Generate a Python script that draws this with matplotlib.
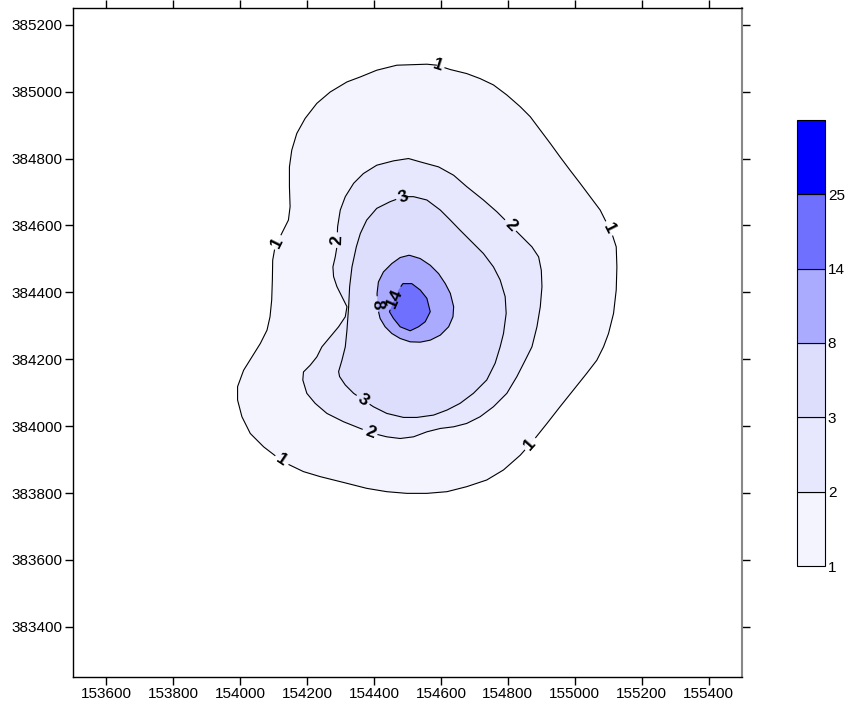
import numpy as np
import matplotlib.pyplot as plt
from matplotlib.contour import ContourSet

plt.rcParams['font.family'] = ['Liberation Sans', 'DejaVu Sans']

# contour levels and band colours (values below 1 stay white)
levels = [1, 2, 3, 8, 14, 25]
band_colors = ['#F4F4FF', '#E7E7FD', '#DDDDFC', '#AAAAFF', '#7070FF', '#0000FF']

# isolines (easting, northing)
c1_x = [154588, 154558, 154468, 154408, 154359, 154319, 154269, 154229, 154194, 154169,
        154154, 154147, 154147, 154149, 154144, 154124, 154104, 154097, 154096, 154094,
        154089, 154080, 154060, 154035, 154010, 153992, 153992, 154005, 154030, 154070,
        154109, 154139, 154189, 154239, 154319, 154378, 154438, 154498, 154558, 154618,
        154677, 154737, 154787, 154837, 154877, 154917, 154956, 154996, 155036, 155066,
        155086, 155101, 155116, 155124, 155126, 155124, 155111, 155096, 155076, 155046,
        155016, 154986, 154956, 154927, 154897, 154867, 154837, 154797, 154757, 154717,
        154677, 154628]
c1_y = [385079, 385082, 385079, 385064, 385044, 385029, 384999, 384965, 384920, 384875,
        384825, 384775, 384716, 384656, 384616, 384576, 384536, 384496, 384437, 384377,
        384327, 384287, 384247, 384207, 384167, 384118, 384078, 384028, 383978, 383938,
        383908, 383888, 383864, 383849, 383829, 383814, 383804, 383799, 383799, 383804,
        383819, 383839, 383869, 383913, 383958, 384008, 384058, 384108, 384158, 384197,
        384237, 384277, 384337, 384407, 384476, 384536, 384576, 384606, 384646, 384686,
        384726, 384765, 384805, 384845, 384885, 384925, 384955, 384990, 385020, 385039,
        385054, 385066]

c2_x = [154503, 154538, 154593, 154638, 154677, 154727, 154767, 154807, 154842, 154872,
        154892, 154900, 154902, 154897, 154887, 154872, 154852, 154827, 154797, 154757,
        154717, 154677, 154638, 154598, 154558, 154518, 154478, 154438, 154398, 154359,
        154309, 154259, 154224, 154199, 154187, 154189, 154209, 154229, 154244, 154269,
        154294, 154314, 154319, 154304, 154289, 154279, 154277, 154284, 154289, 154291,
        154299, 154314, 154339, 154368, 154408, 154458]
c2_y = [384800, 384790, 384775, 384750, 384716, 384676, 384641, 384601, 384566, 384536,
        384506, 384466, 384417, 384357, 384297, 384237, 384197, 384148, 384098, 384058,
        384028, 384008, 383998, 383993, 383983, 383968, 383963, 383968, 383978, 383993,
        384013, 384038, 384068, 384098, 384138, 384162, 384182, 384207, 384237, 384267,
        384297, 384327, 384357, 384387, 384417, 384447, 384476, 384506, 384536, 384596,
        384646, 384686, 384726, 384755, 384780, 384793]

c3_x = [154488, 154518, 154558, 154598, 154628, 154657, 154697, 154727, 154757, 154777,
        154792, 154795, 154787, 154777, 154762, 154737, 154697, 154657, 154618, 154578,
        154528, 154488, 154438, 154398, 154368, 154339, 154314, 154297, 154294, 154304,
        154314, 154319, 154324, 154327, 154334, 154347, 154359, 154378, 154408, 154448]
c3_y = [384686, 384686, 384676, 384646, 384616, 384586, 384546, 384516, 384476, 384437,
        384387, 384337, 384277, 384237, 384188, 384138, 384098, 384068, 384048, 384033,
        384026, 384026, 384038, 384058, 384078, 384098, 384123, 384148, 384163, 384197,
        384237, 384287, 384357, 384417, 384476, 384536, 384576, 384616, 384651, 384671]

c8_x = [154505, 154538, 154568, 154593, 154613, 154628, 154638, 154636, 154623, 154598,
        154568, 154538, 154508, 154478, 154453, 154433, 154418, 154410, 154409, 154413,
        154428, 154453, 154478]
c8_y = [384511, 384501, 384481, 384456, 384426, 384397, 384357, 384327, 384297, 384272,
        384257, 384251, 384252, 384262, 384277, 384297, 384322, 384357, 384397, 384431,
        384461, 384486, 384504]

c14_x = [154486, 154513, 154538, 154558, 154568, 154553, 154533, 154508, 154478, 154458,
         154446, 154458, 154473]
c14_y = [384426, 384426, 384407, 384382, 384342, 384312, 384297, 384285, 384297, 384322,
         384342, 384372, 384407]

# where the labels sit on the lines
label_x = [154588, 155105, 154110, 154125, 154863, 154292, 154803, 154388, 154487, 154367, 154409, 154463]
label_y = [385074, 384592, 384550, 383899, 383950, 384556, 384595, 383982, 384685, 384078, 384365, 384383]

xticks = list(range(153600, 155401, 200))
yticks = list(range(383400, 385201, 200))

contours = [(c1_x, c1_y), (c2_x, c2_y), (c3_x, c3_y), (c8_x, c8_y), (c14_x, c14_y)]

fig = plt.figure(figsize=(8.49, 7.10), dpi=100)
ax = fig.add_axes([73 / 849, 33 / 710, 669 / 849, 669 / 710])
ax.set_xlim(153500, 155500)
ax.set_ylim(383250, 385250)

# filled bands, stacked from outside in
for (cx, cy), col in zip(contours, band_colors):
    ax.fill(cx, cy, color=col, lw=0, zorder=1)

allsegs = [[np.column_stack([cx + cx[:1], cy + cy[:1]])] for cx, cy in contours]
cs = ContourSet(ax, levels[:5], allsegs, colors='k', linewidths=0.8, zorder=2)
labels = ax.clabel(cs, manual=list(zip(label_x, label_y)), inline=True,
                   fmt='%d', fontsize=12.5, inline_spacing=3)
for t in labels:
    t.set_fontweight('bold')

ax.set_xticks(xticks)
ax.set_yticks(yticks)
ax.tick_params(top=True, right=True, labeltop=False, labelright=False,
               direction='out', length=5.5, width=1, labelsize=11, pad=2)
ax.spines['right'].set_color('#888888')
ax.spines['right'].set_linewidth(1.5)
for s in ['left', 'bottom', 'top']:
    ax.spines[s].set_linewidth(1)

# colour scale
cax = fig.add_axes([797 / 849, 144 / 710, 28 / 849, 446 / 710])
for i, col in enumerate(band_colors):
    cax.bar(0, 1, bottom=i, width=1, color=col, edgecolor='k', lw=0.8, clip_on=False)
cax.set_xlim(-0.5, 0.5)
cax.set_ylim(0, 6)
cax.set_xticks([])
cax.yaxis.tick_right()
cax.set_yticks(range(6))
cax.set_yticklabels([str(v) for v in levels])
cax.tick_params(axis='y', length=0, labelsize=11, pad=2)
for s in cax.spines.values():
    s.set_visible(False)

fig.savefig('out.png', dpi=100)
